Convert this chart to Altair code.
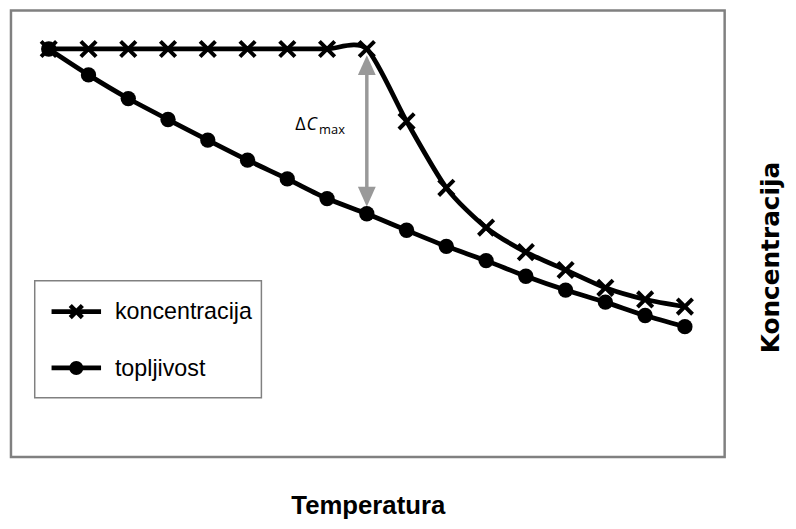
import altair as alt
import pandas as pd

# ---- data ----
temp = [0, 1, 2, 3, 4, 5, 6, 7, 8, 9, 10, 11, 12, 13, 14, 15, 16]
koncentracija = [91.4, 91.4, 91.4, 91.4, 91.4, 91.4, 91.4, 91.4, 91.4,
                 75.2, 60.3, 51.4, 45.9, 41.9, 37.9, 35.3, 33.7]
topljivost = [91.4, 85.6, 80.3, 75.6, 71.0, 66.5, 62.3, 57.9, 54.5,
              50.8, 47.2, 44.0, 40.5, 37.4, 34.7, 31.7, 29.2]
series_names = ["koncentracija", "topljivost"]

arrow_x = [8]
arrow_top = [85.6]
arrow_bottom = [60.3]
arrow_head_up = [87.8]
arrow_head_down = [58.3]

label_parts = ["Δ", "C", "max"]
label_x = [6.2, 6.48, 6.8]
label_y = [73.2, 73.2, 72.4]

df = pd.DataFrame({
    "temp": temp + temp,
    "value": koncentracija + topljivost,
    "series": [series_names[0]] * len(temp) + [series_names[1]] * len(temp),
})

xscale = alt.Scale(domain=[-0.95, 17.0], nice=False, zero=False)
yscale = alt.Scale(domain=[0, 100], nice=False, zero=False)

x_enc = alt.X("temp:Q", scale=xscale, axis=alt.Axis(
    title="Temperatura", labels=False, ticks=False, domain=False, grid=False,
    titleFont="Liberation Sans", titleFontSize=26, titleFontWeight="bold",
    titleColor="black", titleY=57, titleBaseline="alphabetic"))
y_enc = alt.Y("value:Q", scale=yscale, axis=alt.Axis(
    orient="right", title="Koncentracija", labels=False, ticks=False,
    domain=False, grid=False, titleAngle=270, titleX=46, titleY=249,
    titleAlign="center", titleBaseline="middle", titleFont="DejaVu Sans",
    titleFontSize=25, titleFontWeight="bold", titleColor="black"))

base = alt.Chart(df).encode(x=x_enc, y=y_enc)

lines = base.mark_line(interpolate="cardinal", tension=0.25, color="black",
                       strokeWidth=4.8).encode(detail="series:N")

X_PATH = "M-1,-1L1,1M1,-1L-1,1"
xpts = base.transform_filter(alt.datum.series == "koncentracija").mark_point(
    shape=X_PATH, size=240, filled=False, stroke="black", strokeWidth=4,
    opacity=1)
cpts = base.transform_filter(alt.datum.series == "topljivost").mark_circle(
    size=240, color="black", opacity=1)

# arrow
arr_df = pd.DataFrame({"temp": arrow_x, "top": arrow_top, "bottom": arrow_bottom})
arrow = alt.Chart(arr_df).mark_rule(color="#999999", strokeWidth=3.5).encode(
    x=alt.X("temp:Q", scale=xscale), y=alt.Y("top:Q", scale=yscale),
    y2="bottom:Q")
head_up = alt.Chart(pd.DataFrame({"temp": arrow_x, "v": arrow_head_up})).mark_point(
    shape="M0,-1L0.9,1L-0.9,1Z", filled=True, color="#999999", size=400,
    opacity=1).encode(x=alt.X("temp:Q", scale=xscale), y=alt.Y("v:Q", scale=yscale))
head_down = alt.Chart(pd.DataFrame({"temp": arrow_x, "v": arrow_head_down})).mark_point(
    shape="M0,1L0.9,-1L-0.9,-1Z", filled=True, color="#999999", size=400,
    opacity=1).encode(x=alt.X("temp:Q", scale=xscale), y=alt.Y("v:Q", scale=yscale))

# Delta C_max label
lab_df = pd.DataFrame({"t": label_parts, "temp": label_x, "v": label_y})
def lab(i, size, style):
    return alt.Chart(lab_df).transform_filter(alt.datum.t == label_parts[i]).mark_text(
        font="Open Sans", fontSize=size, fontStyle=style, align="left",
        baseline="alphabetic", color="black").encode(
        x=alt.X("temp:Q", scale=xscale), y=alt.Y("v:Q", scale=yscale), text="t:N")
labels = lab(0, 18, "normal") + lab(1, 18, "italic") + lab(2, 13, "normal")

# custom legend (inside the plot, lower left)
one = pd.DataFrame({"a": [0]})
leg_box = alt.Chart(one).mark_rect(fill="white", stroke="#808080", strokeWidth=1.5).encode(
    x=alt.value(24), x2=alt.value(253), y=alt.value(273), y2=alt.value(391))
leg_l1 = alt.Chart(one).mark_rule(color="black", strokeWidth=4.8).encode(
    x=alt.value(41), x2=alt.value(91), y=alt.value(304))
leg_l2 = alt.Chart(one).mark_rule(color="black", strokeWidth=4.8).encode(
    x=alt.value(41), x2=alt.value(91), y=alt.value(361))
leg_m1 = alt.Chart(one).mark_point(shape=X_PATH, size=150, filled=False, stroke="black",
                                   strokeWidth=4.5, opacity=1).encode(
    x=alt.value(66), y=alt.value(304))
leg_m2 = alt.Chart(one).mark_circle(size=200, color="black", opacity=1).encode(
    x=alt.value(66), y=alt.value(361))
leg_t1 = alt.Chart(one).mark_text(text="koncentracija", align="left", baseline="alphabetic",
                                  font="Liberation Sans", fontSize=23.5, color="black").encode(
    x=alt.value(105), y=alt.value(312))
leg_t2 = alt.Chart(one).mark_text(text="topljivost", align="left", baseline="alphabetic",
                                  font="Liberation Sans", fontSize=23.5, color="black").encode(
    x=alt.value(105), y=alt.value(369))
legend = leg_box + leg_l1 + leg_l2 + leg_m1 + leg_m2 + leg_t1 + leg_t2

chart = alt.layer(lines, arrow, head_up, head_down, xpts, cpts, labels, legend).properties(
    width=721, height=451,
    background="white",
    padding={"left": 3, "top": 0, "right": 5, "bottom": 0},
).configure_view(stroke="#808080", strokeWidth=2.5)

chart.save("out.html", embed_options={"renderer": "svg", "actions": False})
